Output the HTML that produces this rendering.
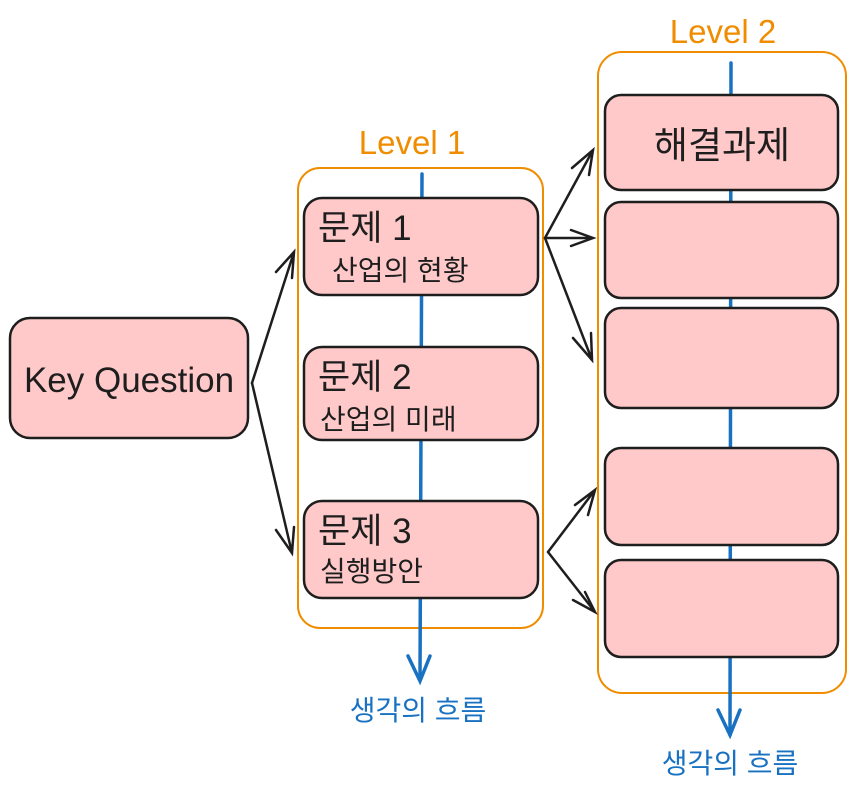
<!DOCTYPE html>
<html><head><meta charset="utf-8"><style>
body{margin:0;background:#fff;width:857px;height:790px;overflow:hidden}
text{font-family:"Liberation Sans","Noto Sans CJK KR",sans-serif}
</style></head><body>
<svg width="857" height="790" viewBox="0 0 857 790" xmlns="http://www.w3.org/2000/svg">
<g fill="none" stroke="#f08c00" stroke-width="2">
<rect x="298" y="168" width="245" height="460" rx="22"/>
<rect x="598" y="52" width="248" height="641" rx="24"/>
</g>
<text x="412" y="154" font-size="33" fill="#f08c00" text-anchor="middle">Level 1</text>
<text x="723" y="43" font-size="33" fill="#f08c00" text-anchor="middle">Level 2</text>
<g stroke="#1971c2" stroke-width="3.5" fill="none" stroke-linecap="round">
<line x1="422" y1="174" x2="420" y2="680"/>
<polyline points="408,656 420,681 430,656"/>
<line x1="731" y1="63" x2="730" y2="735"/>
<polyline points="718,710 730,735 740,710"/>
</g>
<text x="418" y="720" font-size="28" fill="#1971c2" text-anchor="middle">생각의 흐름</text>
<text x="730" y="773" font-size="28" fill="#1971c2" text-anchor="middle">생각의 흐름</text>
<g fill="#ffc9c9" stroke="#1e1e1e" stroke-width="2.5">
<rect x="10" y="318" width="238" height="120" rx="20"/>
<rect x="304" y="198" width="234" height="97" rx="18"/>
<rect x="304" y="347" width="234" height="93" rx="18"/>
<rect x="304" y="501" width="234" height="97" rx="18"/>
<rect x="605" y="95" width="233" height="95" rx="16"/>
<rect x="605" y="202" width="233" height="96" rx="16"/>
<rect x="605" y="308" width="233" height="100" rx="16"/>
<rect x="605" y="448" width="233" height="97" rx="16"/>
<rect x="605" y="560" width="233" height="97" rx="16"/>
</g>
<g fill="#1e1e1e">
<text x="129" y="392" font-size="35" text-anchor="middle">Key Question</text>
<text x="318" y="240" font-size="35">문제 1</text>
<text x="332" y="280" font-size="28">산업의 현황</text>
<text x="318" y="389" font-size="35">문제 2</text>
<text x="320" y="429" font-size="28">산업의 미래</text>
<text x="318" y="543" font-size="35">문제 3</text>
<text x="320" y="581" font-size="28">실행방안</text>
<text x="722" y="158" font-size="37" text-anchor="middle">해결과제</text>
</g>
<g stroke="#1e1e1e" stroke-width="2.5" fill="none" stroke-linecap="round">
<path d="M252,383 L294,252 M276,272 L294,252 L292,278"/>
<path d="M252,383 L292,553 M276,530 L292,553 L294,527"/>
<path d="M545,238 L593,150 M572,168 L593,150 L589,175"/>
<path d="M545,238 L593,238 M571,230 L593,238 L571,246"/>
<path d="M545,238 L592,360 M573,338 L592,360 L591,333"/>
<path d="M548,552 L595,490 M575,505 L595,490 L588,515"/>
<path d="M548,552 L595,612 M573,600 L595,612 L585,592"/>
</g>
</svg>
</body></html>
